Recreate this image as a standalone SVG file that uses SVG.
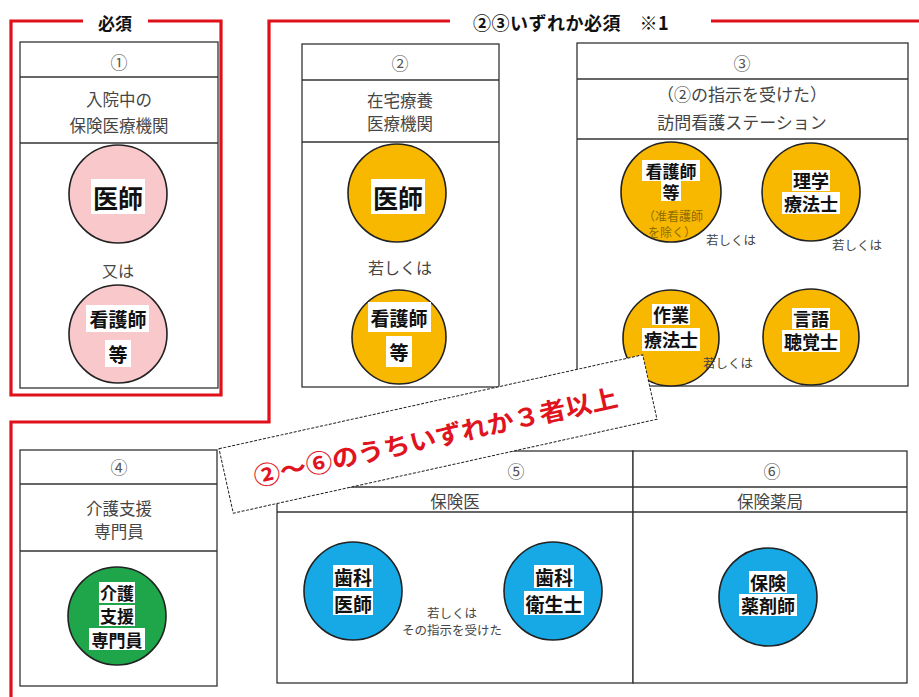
<svg xmlns="http://www.w3.org/2000/svg" width="919" height="697" viewBox="0 0 919 697">
<style>
text{font-family:"Noto Sans CJK JP","Noto Sans",sans-serif;}
.box{fill:#fff;stroke:#333;stroke-width:1.3;}
.ln{stroke:#333;stroke-width:1.3;}
.num{font-size:17px;fill:#555;text-anchor:middle;dominant-baseline:central;}
.hd{font-size:16.5px;fill:#454545;text-anchor:middle;dominant-baseline:central;}
.hd17{font-size:17px;fill:#454545;text-anchor:middle;dominant-baseline:central;}
.red{fill:none;stroke:#e0101a;stroke-width:3.2;}
.lbl{font-size:17px;font-weight:700;fill:#111;text-anchor:middle;dominant-baseline:central;}
.pink{fill:#f9c8cb;stroke:#222;stroke-width:1.6;}
.org{fill:#f9b800;stroke:#222;stroke-width:1.6;}
.grn{fill:#1fa64a;stroke:#222;stroke-width:1.6;}
.blu{fill:#16a9e6;stroke:#222;stroke-width:1.6;}
.wb{fill:#fff;}
.ct{font-weight:700;fill:#111;text-anchor:middle;dominant-baseline:central;}
.sm{font-size:12px;fill:#8c6d00;text-anchor:middle;dominant-baseline:central;}
.or16{font-size:16px;fill:#454545;text-anchor:middle;dominant-baseline:central;}
.orsm{font-size:12.5px;fill:#454545;text-anchor:middle;dominant-baseline:central;}
</style>

<g id="frames">
<path class="red" d="M83,21 H11 V395 H221 V21 H148"/>
<path class="red" d="M450,21 H269 V422 H11 V697"/>
<path class="red" d="M711,21 H919"/>
<text class="lbl" x="115" y="22">必須</text>
<text class="lbl" x="473" y="22" style="text-anchor:start;font-size:18px;letter-spacing:0.5px">②③いずれか必須　※1</text>
</g>

<g id="box1">
<rect class="box" x="20" y="42" width="198" height="346"/>
<line class="ln" x1="20" y1="77" x2="218" y2="77"/>
<line class="ln" x1="20" y1="143" x2="218" y2="143"/>
<text class="num" x="119" y="61">①</text>
<text class="hd" x="119" y="99">入院中の</text>
<text class="hd" x="119" y="125">保険医療機関</text>
<circle class="pink" cx="118" cy="194" r="49"/>
<rect class="wb" x="91" y="179" width="54" height="35"/>
<text class="ct" x="118" y="197" font-size="25">医師</text>
<text class="or16" x="118" y="270">又は</text>
<circle class="pink" cx="118" cy="334" r="49"/>
<rect class="wb" x="86" y="305" width="63" height="27"/>
<text class="ct" x="118" y="318" font-size="19">看護師</text>
<rect class="wb" x="105" y="340" width="26" height="27"/>
<text class="ct" x="118" y="353" font-size="19">等</text>
</g>

<g id="box2">
<rect class="box" x="302" y="44" width="197" height="343"/>
<line class="ln" x1="302" y1="80" x2="499" y2="80"/>
<line class="ln" x1="302" y1="142" x2="499" y2="142"/>
<text class="num" x="400" y="62">②</text>
<text class="hd" x="400" y="100">在宅療養</text>
<text class="hd" x="400" y="123">医療機関</text>
<circle class="org" cx="397" cy="193" r="49"/>
<rect class="wb" x="371" y="179" width="54" height="35"/>
<text class="ct" x="398" y="197" font-size="25">医師</text>
<text class="or16" x="400" y="267">若しくは</text>
<circle class="org" cx="399" cy="337" r="47"/>
<rect class="wb" x="368" y="302" width="63" height="30"/>
<text class="ct" x="399" y="317" font-size="19">看護師</text>
<rect class="wb" x="386" y="336" width="26" height="31"/>
<text class="ct" x="399" y="351" font-size="19">等</text>
</g>

<g id="box3">
<rect class="box" x="577" y="43" width="331" height="343"/>
<line class="ln" x1="577" y1="79" x2="908" y2="79"/>
<line class="ln" x1="577" y1="139" x2="908" y2="139"/>
<text class="num" x="742" y="62">③</text>
<text class="hd17" x="742" y="93">（②の指示を受けた）</text>
<text class="hd17" x="742" y="121">訪問看護ステーション</text>
<circle class="org" cx="671" cy="192" r="50"/>
<rect class="wb" x="642" y="160" width="58" height="21"/>
<text class="ct" x="671" y="170" font-size="17">看護師</text>
<rect class="wb" x="661" y="181" width="20" height="20"/>
<text class="ct" x="671" y="191" font-size="17">等</text>
<text class="sm" x="673" y="215">（准看護師</text>
<text class="sm" x="672" y="231">を除く）</text>
<circle class="org" cx="811" cy="192" r="49"/>
<rect class="wb" x="792" y="170" width="38" height="21"/>
<text class="ct" x="811" y="180" font-size="18">理学</text>
<rect class="wb" x="782" y="192" width="58" height="22"/>
<text class="ct" x="811" y="203" font-size="18">療法士</text>
<text class="orsm" x="731" y="239">若しくは</text>
<text class="orsm" x="857" y="244">若しくは</text>
<circle class="org" cx="671" cy="338" r="48"/>
<rect class="wb" x="652" y="304" width="38" height="21"/>
<text class="ct" x="671" y="314" font-size="18">作業</text>
<rect class="wb" x="642" y="328" width="58" height="23"/>
<text class="ct" x="671" y="339" font-size="18">療法士</text>
<circle class="org" cx="811" cy="337" r="48"/>
<rect class="wb" x="792" y="308" width="38" height="21"/>
<text class="ct" x="811" y="318" font-size="18">言語</text>
<rect class="wb" x="782" y="330" width="58" height="22"/>
<text class="ct" x="811" y="341" font-size="18">聴覚士</text>
<text class="orsm" x="728" y="362">若しくは</text>
</g>

<g id="box4">
<rect class="box" x="20" y="450" width="197" height="236"/>
<line class="ln" x1="20" y1="484" x2="217" y2="484"/>
<line class="ln" x1="20" y1="551" x2="217" y2="551"/>
<text class="num" x="119" y="466">④</text>
<text class="hd" x="119" y="508">介護支援</text>
<text class="hd" x="119" y="531">専門員</text>
<circle class="grn" cx="117" cy="616" r="49"/>
<rect class="wb" x="99" y="582" width="36" height="21"/>
<text class="ct" x="117" y="592" font-size="17">介護</text>
<rect class="wb" x="99" y="605" width="36" height="21"/>
<text class="ct" x="117" y="615" font-size="17">支援</text>
<rect class="wb" x="89" y="628" width="56" height="22"/>
<text class="ct" x="117" y="639" font-size="17">専門員</text>
</g>

<g id="box5">
<rect class="box" x="277" y="451" width="356" height="232"/>
<line class="ln" x1="277" y1="487" x2="633" y2="487"/>
<line class="ln" x1="277" y1="512" x2="633" y2="512"/>
<text class="num" x="516" y="470">⑤</text>
<text class="hd" x="455" y="501">保険医</text>
<circle class="blu" cx="353" cy="591" r="49"/>
<rect class="wb" x="333" y="565" width="40" height="23"/>
<text class="ct" x="353" y="576" font-size="19">歯科</text>
<rect class="wb" x="333" y="591" width="40" height="24"/>
<text class="ct" x="353" y="603" font-size="19">医師</text>
<circle class="blu" cx="553" cy="591" r="49"/>
<rect class="wb" x="534" y="565" width="40" height="23"/>
<text class="ct" x="554" y="576" font-size="19">歯科</text>
<rect class="wb" x="524" y="591" width="60" height="24"/>
<text class="ct" x="554" y="603" font-size="19">衛生士</text>
<text class="orsm" x="452" y="612">若しくは</text>
<text class="orsm" x="452" y="629">その指示を受けた</text>
</g>

<g id="box6">
<rect class="box" x="633" y="451" width="274" height="232"/>
<line class="ln" x1="633" y1="487" x2="907" y2="487"/>
<line class="ln" x1="633" y1="512" x2="907" y2="512"/>
<text class="num" x="772" y="470">⑥</text>
<text class="hd" x="770" y="501">保険薬局</text>
<circle class="blu" cx="768" cy="597" r="49"/>
<rect class="wb" x="749" y="571" width="38" height="22"/>
<text class="ct" x="768" y="582" font-size="18">保険</text>
<rect class="wb" x="739" y="594" width="58" height="22"/>
<text class="ct" x="768" y="605" font-size="18">薬剤師</text>
</g>

<g id="banner" transform="translate(438,434) rotate(-12.5)">
<rect x="-217" y="-33" width="434" height="66" fill="#fff" stroke="#222" stroke-width="1" stroke-dasharray="3,1.5"/>
<text x="-3" y="12" font-size="25" font-weight="700" fill="#e0141e" text-anchor="middle" textLength="372" lengthAdjust="spacingAndGlyphs">②～⑥のうちいずれか３者以上</text>
</g>
</svg>
